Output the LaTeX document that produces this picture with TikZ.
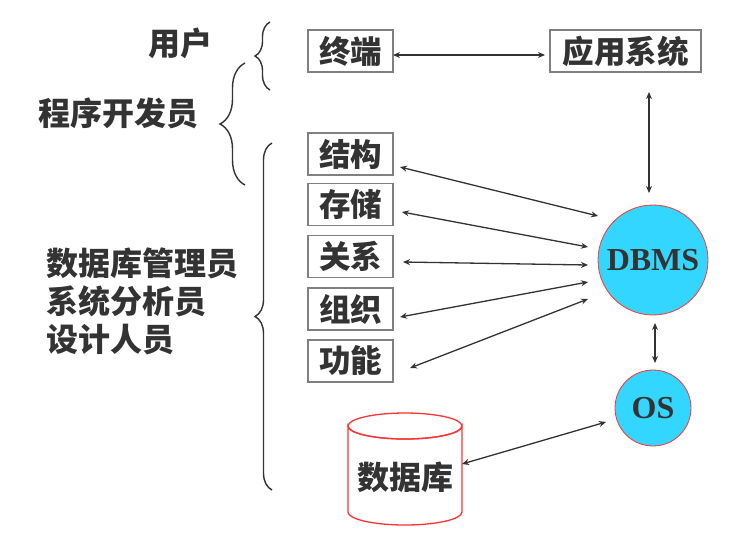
\documentclass[tikz,border=0pt]{standalone}
\usepackage{fontspec}
\newfontfamily\cjk{Noto Sans CJK SC}
\newfontfamily\tnr{Liberation Serif}
\usetikzlibrary{decorations.pathreplacing,arrows.meta}
\definecolor{txt}{HTML}{333333}
\definecolor{boxline}{HTML}{808080}
\definecolor{cyanfill}{HTML}{33D6FF}
\definecolor{redline}{HTML}{FF3333}
\begin{document}
\begin{tikzpicture}[x=1pt,y=-1pt,
 lbl/.style={font=\cjk\bfseries\fontsize{32}{38}\selectfont, text=txt, inner sep=0pt},
 boxn/.style={draw=boxline, line width=1.2pt, fill=white, minimum width=85pt, minimum height=42pt, inner sep=0pt, font=\cjk\bfseries\fontsize{31.5}{31.5}\selectfont, text=txt},
 circ/.style={circle, draw=redline, line width=0.8pt, fill=cyanfill, inner sep=0pt, font=\tnr\bfseries\fontsize{32}{32}\selectfont, text=txt},
 conn/.style={draw=txt, line width=1.3pt, {Stealth[length=7pt,width=6pt]}-{Stealth[length=7pt,width=6pt]}},
 brc/.style={draw=txt, line width=1.4pt, decorate, decoration={brace, amplitude=#1}}]
\useasboundingbox[fill=white] (0,0) rectangle (738,536);

% left labels
\node[lbl] (yh) at (180,43) {用户};
\node[lbl] (cx) at (118,113) {程序开发员};
\node[lbl, anchor=west, align=left] (gl) at (46,301) {数据库管理员\\系统分析员\\设计人员};

% braces
\draw[brc=15pt] (270,90) -- (270,22);
\draw[brc=25pt] (245,185) -- (245,63);
\draw[brc=17pt] (272,490) -- (272,143);

% boxes
\node[boxn] (zd) at (350.5,51) {终端};
\node[boxn, minimum width=151pt] (yy) at (625.5,51) {应用系统};
\node[boxn] (jg) at (350.5,154) {结构};
\node[boxn] (cc) at (350.5,204.5) {存储};
\node[boxn] (gx) at (350.5,256.5) {关系};
\node[boxn] (zz) at (350.5,309) {组织};
\node[boxn] (gn) at (350.5,361) {功能};

% circles
\node[circ, minimum size=110pt] (dbms) at (653,260) {DBMS};
\node[circ, minimum size=76pt] (os) at (653,408) {OS};

% cylinder
\draw[draw=redline, line width=1.3pt, fill=white] (348,426) -- (348,512) arc[start angle=180, end angle=0, x radius=57, y radius=13] -- (462,426) arc[start angle=0, end angle=180, x radius=57, y radius=13] -- cycle;
\draw[draw=redline, line width=1.3pt] (405,426) ellipse[x radius=57, y radius=13];
\node[lbl] (sjk) at (405,477) {数据库};

% connector end points
\coordinate (zdE) at (393,55);
\coordinate (yyW) at (545,55);
\coordinate (yyS) at (649,92);
\coordinate (dbN) at (649,193);
\coordinate (jgE) at (400,167);
\coordinate (db1) at (598,216);
\coordinate (ccE) at (402,212);
\coordinate (db2) at (588,247);
\coordinate (gxE) at (403,262);
\coordinate (db3) at (588,265);
\coordinate (zzE) at (400,317);
\coordinate (db4) at (588,282);
\coordinate (gnE) at (410,368);
\coordinate (db5) at (588,299);
\coordinate (dbS) at (655,323);
\coordinate (osN) at (655,363);
\coordinate (sjkE) at (462,464);
\coordinate (osW) at (606,422);

\draw[conn] (zdE) -- (yyW);
\draw[conn] (yyS) -- (dbN);
\draw[conn] (jgE) -- (db1);
\draw[conn] (ccE) -- (db2);
\draw[conn] (gxE) -- (db3);
\draw[conn] (zzE) -- (db4);
\draw[conn] (gnE) -- (db5);
\draw[conn] (dbS) -- (osN);
\draw[conn] (sjkE) -- (osW);
\end{tikzpicture}
\end{document}
